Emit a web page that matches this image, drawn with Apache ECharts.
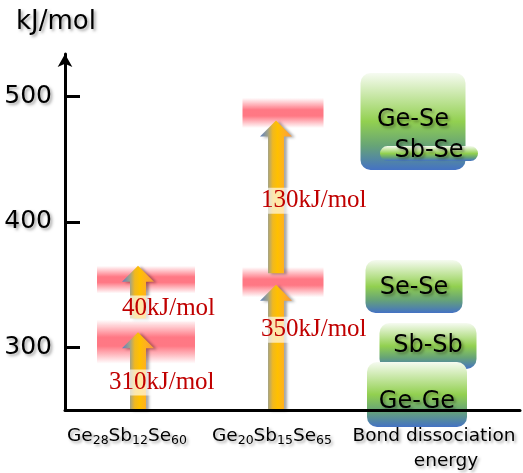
<!DOCTYPE html>
<html>
<head>
<meta charset="utf-8">
<script src="https://cdn.jsdelivr.net/npm/echarts@6/dist/echarts.min.js"></script>
<style>
    html, body { margin: 0; background: #fff; }
    #main { width: 523px; height: 473px; }
</style>
</head>
<body>
<div id="main"></div>
<script>
// ---- data (kJ/mol) ----
var categories = ['Ge28Sb12Se60', 'Ge20Sb15Se65', 'Bond dissociation\nenergy'];
var yTicks = [300, 400, 500];

// energy arrows: [category index, from, to]
var arrowData = [[0, 250, 312], [0, 323, 365], [1, 250, 350], [1, 359, 481]];
var arrowText = ['310kJ/mol', '40kJ/mol', '350kJ/mol', '130kJ/mol'];

// pink level bands: [category index, low, high]
var bandData = [[0, 287, 322], [0, 343, 365], [1, 340, 364], [1, 475, 499]];

// bond dissociation energy boxes
var bondNames = ['Ge-Se', 'Sb-Se', 'Se-Se', 'Sb-Sb', 'Ge-Ge'];
var bondLow = [441.5, 448.6, 327.4, 282.7, 236.4];
var bondHigh = [518.8, 460.6, 369.7, 319.4, 288.3];

// ---- layout / style tweaks (pixels) ----
var arrowLabelLayout = [
    { at: 272, dx: -30 },
    { at: 331, dx: -17 },
    { at: 314, dx: -16 },
    { at: 417, dx: -16 }
];
var bandLayout = [{ dx: 8, w: 98 }, { dx: 8, w: 98 }, { dx: 7, w: 81 }, { dx: 7, w: 81 }];
var boxLayout = [
    { dx: -1, w: 105, ty: -2 },
    { dx: 15, w: 98, ty: -3 },
    { dx: 0, w: 97, ty: 1 },
    { dx: 14, w: 97, ty: 0 },
    { dx: 3, w: 100, ty: 7 }
];
// horizontal nudge of each category label line
var labelShift = [[-11], [-4], [20, 32]];

var shadow = {
    textShadowColor: 'rgba(0,0,0,0.35)',
    textShadowBlur: 3,
    textShadowOffsetX: 2,
    textShadowOffsetY: 2
};
var sans = 'DejaVu Sans';

function ext(a, b) {
    for (var k in b) a[k] = b[k];
    return a;
}

var chart = echarts.init(document.getElementById('main'));

var arrowFill = new echarts.graphic.LinearGradient(0, 0, 1, 0, [
    { offset: 0, color: '#5b7fc0' },
    { offset: 0.25, color: '#a3a387' },
    { offset: 0.4, color: '#f0b820' },
    { offset: 0.55, color: '#ffc000' },
    { offset: 0.75, color: '#ffb020' },
    { offset: 1, color: '#f79646' }
]);

function renderBand(params, api) {
    var L = bandLayout[params.dataIndex];
    var hi = api.coord([api.value(0), api.value(2)]);
    var lo = api.coord([api.value(0), api.value(1)]);
    var cx = hi[0] + L.dx;
    return {
        type: 'rect',
        shape: { x: cx - L.w / 2, y: hi[1], width: L.w, height: lo[1] - hi[1] },
        style: {
            fill: new echarts.graphic.LinearGradient(0, 0, 0, 1, [
                { offset: 0, color: 'rgba(255,90,105,0)' },
                { offset: 0.4, color: 'rgba(255,90,105,0.82)' },
                { offset: 0.6, color: 'rgba(255,90,105,0.82)' },
                { offset: 1, color: 'rgba(255,90,105,0)' }
            ])
        }
    };
}

function renderArrow(params, api) {
    var base = api.coord([api.value(0), api.value(1)]);
    var tip = api.coord([api.value(0), api.value(2)]);
    var cx = base[0], bw = 8, hw = 16, hh = 16;
    var y0 = base[1], y1 = tip[1];
    return {
        type: 'polygon',
        shape: {
            points: [
                [cx - bw, y0], [cx - bw, y1 + hh], [cx - hw, y1 + hh], [cx, y1],
                [cx + hw, y1 + hh], [cx + bw, y1 + hh], [cx + bw, y0]
            ]
        },
        style: {
            fill: arrowFill,
            shadowColor: 'rgba(0,0,0,0.35)',
            shadowBlur: 3,
            shadowOffsetX: 3,
            shadowOffsetY: 1
        }
    };
}

function renderArrowLabel(params, api) {
    var i = params.dataIndex;
    var L = arrowLabelLayout[i];
    var p = api.coord([api.value(0), L.at]);
    return {
        type: 'text',
        style: {
            text: arrowText[i],
            x: p[0] + L.dx,
            y: p[1],
            align: 'left',
            verticalAlign: 'middle',
            font: '25px "Liberation Serif"',
            fill: '#c00000',
            backgroundColor: 'rgba(255,255,255,0.65)',
            padding: [1, 1, 0, 1]
        }
    };
}

function renderBox(params, api) {
    var i = params.dataIndex;
    var L = boxLayout[i];
    var top = api.coord([api.value(0), api.value(2)]);
    var bot = api.coord([api.value(0), api.value(1)]);
    var cx = top[0] + L.dx;
    var h = bot[1] - top[1];
    return {
        type: 'group',
        children: [{
            type: 'rect',
            shape: { x: cx - L.w / 2, y: top[1], width: L.w, height: h, r: Math.min(10, h / 2) },
            style: {
                fill: new echarts.graphic.LinearGradient(0, 0, 0, 1, [
                    { offset: 0, color: '#f6fbf1' },
                    { offset: 0.5, color: '#92d050' },
                    { offset: 0.75, color: '#67a476' },
                    { offset: 1, color: '#4472c4' }
                ])
            }
        }, {
            type: 'text',
            style: ext({
                text: bondNames[i],
                x: cx,
                y: (top[1] + bot[1]) / 2 + L.ty,
                align: 'center',
                verticalAlign: 'middle',
                font: '24px "' + sans + '"',
                fill: '#000'
            }, shadow)
        }]
    };
}

var boxSeries = bondNames.map(function (n, i) {
    return [2, bondLow[i], bondHigh[i]];
});

var rich = {
    m: ext({ fontSize: 18.5, fontFamily: sans, color: '#000', lineHeight: 25 }, shadow),
    s: ext({ fontSize: 12.5, fontFamily: sans, color: '#000', lineHeight: 25, padding: [9, 0, 0, 0] }, shadow)
};
labelShift.forEach(function (arr) {
    arr.forEach(function (d) {
        rich['g' + Math.abs(d * 2)] = { width: Math.abs(d * 2), fontSize: 18, lineHeight: 25 };
    });
});

function categoryLabel(value, index) {
    var lines = value.split('\n');
    return lines.map(function (line, li) {
        var toks = line.split(/(\d+)/).filter(function (t) { return t; }).map(function (t) {
            return /^\d+$/.test(t) ? '{s|' + t + '}' : '{m|' + t + '}';
        }).join('');
        var d = labelShift[index][li] || 0;
        if (d) {
            var key = 'g' + Math.abs(d * 2);
            toks = d > 0 ? '{' + key + '| }' + toks : toks + '{' + key + '| }';
        }
        return toks;
    }).join('\n');
}

chart.setOption({
    animation: false,
    grid: [
        { left: 65, right: 3, top: 54, bottom: 63 },
        { left: 69, width: 414, top: 54, bottom: 63 }
    ],
    xAxis: [{
        type: 'value',
        gridIndex: 0,
        min: 0,
        max: 1,
        z: 5,
        axisLine: { show: true, onZero: false, lineStyle: { color: '#000', width: 3 } },
        axisTick: { show: false },
        axisLabel: { show: false },
        splitLine: { show: false }
    }, {
        type: 'category',
        gridIndex: 1,
        data: categories,
        axisLine: { show: false },
        axisTick: { show: false },
        axisLabel: {
            interval: 0,
            hideOverlap: false,
            margin: 14,
            formatter: categoryLabel,
            rich: rich
        }
    }],
    yAxis: [{
        type: 'value',
        gridIndex: 0,
        min: 250,
        max: 534,
        z: 5,
        name: 'kJ/mol',
        nameLocation: 'end',
        nameGap: 19,
        nameTextStyle: ext({
            fontSize: 26,
            fontFamily: sans,
            color: '#000',
            align: 'center',
            padding: [0, 18, 0, 0]
        }, shadow),
        axisLine: {
            show: true,
            onZero: false,
            symbol: ['none', 'arrow'],
            symbolSize: [11, 13],
            lineStyle: { color: '#000', width: 3 }
        },
        axisTick: {
            show: true,
            inside: true,
            length: 15,
            customValues: yTicks,
            lineStyle: { color: '#000', width: 3 }
        },
        axisLabel: ext({
            customValues: yTicks,
            margin: 13,
            fontSize: 25,
            fontFamily: sans,
            color: '#000'
        }, shadow),
        splitLine: { show: false }
    }, {
        type: 'value',
        gridIndex: 1,
        min: 250,
        max: 534,
        show: false
    }],
    series: [{
        type: 'custom',
        xAxisIndex: 1,
        yAxisIndex: 1,
        z: 1,
        renderItem: renderBox,
        encode: { x: 0, y: [1, 2] },
        data: boxSeries
    }, {
        type: 'custom',
        xAxisIndex: 1,
        yAxisIndex: 1,
        z: 2,
        renderItem: renderBand,
        encode: { x: 0, y: [1, 2] },
        data: bandData
    }, {
        type: 'custom',
        xAxisIndex: 1,
        yAxisIndex: 1,
        z: 3,
        renderItem: renderArrow,
        encode: { x: 0, y: [1, 2] },
        data: arrowData
    }, {
        type: 'custom',
        xAxisIndex: 1,
        yAxisIndex: 1,
        z: 4,
        renderItem: renderArrowLabel,
        encode: { x: 0, y: [1, 2] },
        data: arrowData
    }]
});
</script>
</body>
</html>
